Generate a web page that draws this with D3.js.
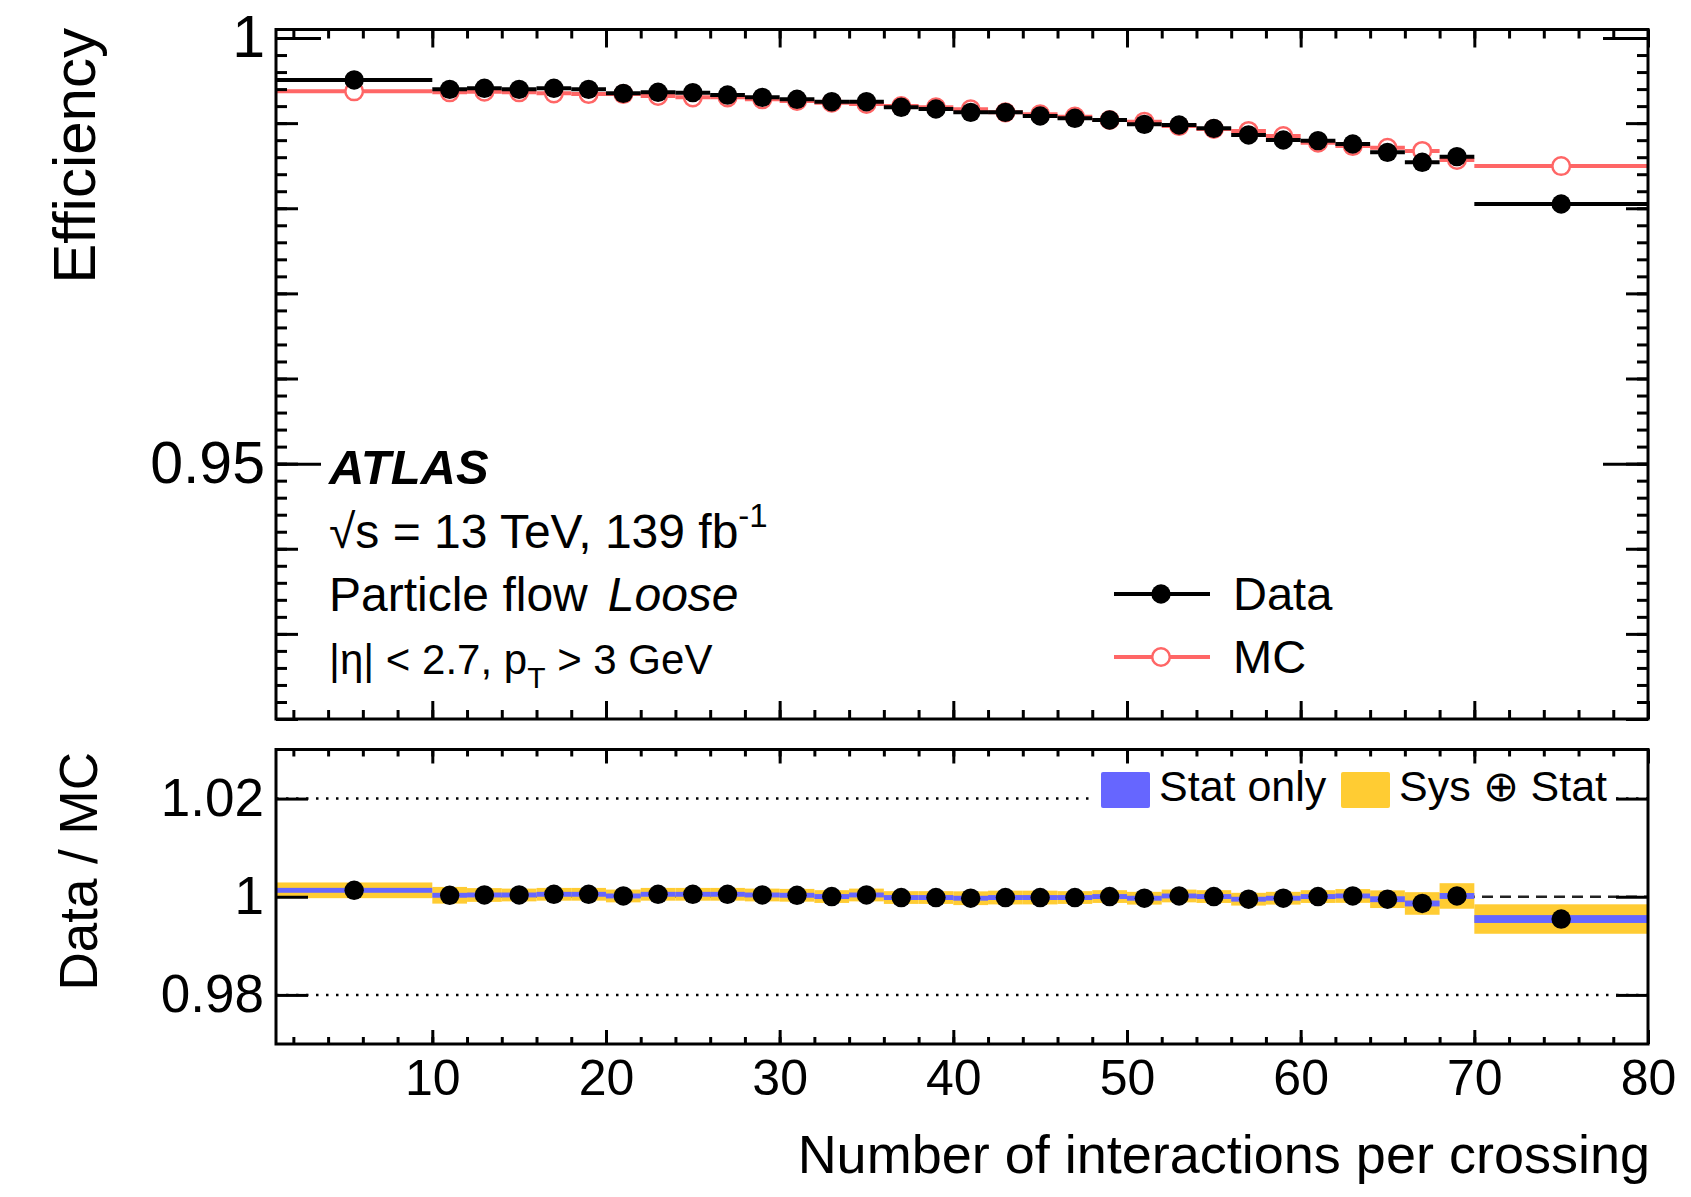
<!DOCTYPE html>
<html>
<head>
<meta charset="utf-8">
<script src="https://cdn.jsdelivr.net/npm/d3@7"></script>
<style>
body { margin: 0; background: #fff; }
text { font-family: "Liberation Sans", Arial, Helvetica, sans-serif; fill: #000; }
</style>
</head>
<body>
<svg id="chart"></svg>
<script>
// bins in number of interactions per crossing
const binEdges = [1, 10, 12, 14, 16, 18, 20, 22, 24, 26, 28, 30, 32, 34, 36, 38, 40,
  42, 44, 46, 48, 50, 52, 54, 56, 58, 60, 62, 64, 66, 68, 70, 80];
const effData = [0.99507, 0.99397, 0.99409, 0.99397, 0.99409, 0.99397, 0.99350, 0.99362,
  0.99358, 0.99330, 0.99303, 0.99280, 0.99252, 0.99252, 0.99186, 0.99166, 0.99127, 0.99127,
  0.99084, 0.99057, 0.99037, 0.98986, 0.98978, 0.98939, 0.98861, 0.98802, 0.98794, 0.98755,
  0.98657, 0.98540, 0.98606, 0.98050];
const effMC = [0.99374, 0.99362, 0.99369, 0.99362, 0.99350, 0.99342, 0.99342, 0.99319,
  0.99303, 0.99303, 0.99280, 0.99260, 0.99240, 0.99225, 0.99201, 0.99186, 0.99162, 0.99127,
  0.99104, 0.99076, 0.99037, 0.99017, 0.98966, 0.98931, 0.98908, 0.98849, 0.98770, 0.98731,
  0.98711, 0.98673, 0.98567, 0.98496];
const ratioVals = [1.00131, 1.00030, 1.00036, 1.00036, 1.00050, 1.00050, 1.00016, 1.00050,
  1.00050, 1.00050, 1.00036, 1.00030, 1.00004, 1.00036, 0.99984, 0.99984, 0.99970, 0.99984,
  0.99984, 0.99984, 1.00004, 0.99970, 1.00016, 1.00004, 0.99950, 0.99970, 1.00004, 1.00016,
  0.99950, 0.99863, 1.00016, 0.99546];
const statErr = [0.0005, 0.0005, 0.0005, 0.0005, 0.0005, 0.0005, 0.0005, 0.0005,
  0.0005, 0.0005, 0.0005, 0.0005, 0.0005, 0.0005, 0.0005, 0.0005, 0.0005, 0.0005,
  0.0005, 0.0005, 0.0005, 0.0005, 0.0005, 0.0005, 0.0005, 0.0005, 0.0005, 0.0005,
  0.0006, 0.0006, 0.0006, 0.0008];
const totErr = [0.0016, 0.0017, 0.0014, 0.0013, 0.0013, 0.0013, 0.0013, 0.0013,
  0.0013, 0.0013, 0.0013, 0.0013, 0.0013, 0.0013, 0.0013, 0.0013, 0.0014, 0.0014,
  0.0014, 0.0013, 0.0013, 0.0013, 0.0013, 0.0013, 0.0013, 0.0013, 0.0013, 0.0014,
  0.0018, 0.0023, 0.0026, 0.0030];

const xTickLabels = [10, 20, 30, 40, 50, 60, 70, 80];
const effTickLabels = [0.95, 1];
const ratioTickLabels = [0.98, 1, 1.02];

const L = 276, R = 1648;
const topT = 29.5, topB = 719, botT = 749.5, botB = 1044;
const red = "#ff6666", blue = "#6666ff", yellow = "#ffcc33";

let svg = d3.select("svg#chart")
  .attr("width", 1691)
  .attr("height", 1197)
  .style("background", "#fff");

const x = d3.scaleLinear().domain([1, 80]).range([L, R]);
const yEff = d3.scaleLinear().domain([0.92, 1.001]).range([topB, topT]);
const yRat = d3.scaleLinear().domain([0.97, 1.03]).range([botB, botT]);

const bins = effData.map((d, i) => ({
  lo: binEdges[i], hi: binEdges[i + 1], c: (binEdges[i] + binEdges[i + 1]) / 2,
  data: d, mc: effMC[i], ratio: ratioVals[i], stat: statErr[i], tot: totErr[i]
}));

const defs = svg.append("defs");
defs.append("clipPath").attr("id", "clipTop").append("rect")
  .attr("x", L).attr("y", topT).attr("width", R - L).attr("height", topB - topT);
defs.append("clipPath").attr("id", "clipBot").append("rect")
  .attr("x", L).attr("y", botT).attr("width", R - L).attr("height", botB - botT);

// ---------- top panel ----------
const gTop = svg.append("g").attr("clip-path", "url(#clipTop)");

gTop.selectAll(".mcbar").data(bins).join("line").attr("class", "mcbar")
  .attr("x1", d => x(d.lo)).attr("x2", d => x(d.hi))
  .attr("y1", d => yEff(d.mc)).attr("y2", d => yEff(d.mc))
  .attr("stroke", red).attr("stroke-width", 4);
gTop.selectAll(".mcpt").data(bins).join("circle").attr("class", "mcpt")
  .attr("cx", d => x(d.c)).attr("cy", d => yEff(d.mc)).attr("r", 8.8)
  .attr("fill", "#fff").attr("stroke", red).attr("stroke-width", 2.5);

gTop.selectAll(".databar").data(bins).join("line").attr("class", "databar")
  .attr("x1", d => x(d.lo)).attr("x2", d => x(d.hi))
  .attr("y1", d => yEff(d.data)).attr("y2", d => yEff(d.data))
  .attr("stroke", "#000").attr("stroke-width", 4);
gTop.selectAll(".datapt").data(bins).join("circle").attr("class", "datapt")
  .attr("cx", d => x(d.c)).attr("cy", d => yEff(d.data)).attr("r", 9.7)
  .attr("fill", "#000");

// ---------- ratio panel ----------
const gBot = svg.append("g").attr("clip-path", "url(#clipBot)");

gBot.selectAll(".ref").data([0.98, 1.02]).join("line").attr("class", "ref")
  .attr("x1", L).attr("x2", R).attr("y1", d => yRat(d)).attr("y2", d => yRat(d))
  .attr("stroke", "#000").attr("stroke-width", 2.5).attr("stroke-dasharray", "2.5,7.5");
gBot.append("line")
  .attr("x1", L).attr("x2", R).attr("y1", yRat(1)).attr("y2", yRat(1))
  .attr("stroke", "#222").attr("stroke-width", 2.5).attr("stroke-dasharray", "11,7");

gBot.selectAll(".sys").data(bins).join("rect").attr("class", "sys")
  .attr("x", d => x(d.lo)).attr("width", d => x(d.hi) - x(d.lo))
  .attr("y", d => yRat(d.ratio + d.tot)).attr("height", d => yRat(d.ratio - d.tot) - yRat(d.ratio + d.tot))
  .attr("fill", yellow);
gBot.selectAll(".stat").data(bins).join("rect").attr("class", "stat")
  .attr("x", d => x(d.lo)).attr("width", d => x(d.hi) - x(d.lo))
  .attr("y", d => yRat(d.ratio + d.stat)).attr("height", d => yRat(d.ratio - d.stat) - yRat(d.ratio + d.stat))
  .attr("fill", blue);

// ratio legend (white box hides the dotted line)
const rl = svg.append("g");
rl.append("rect").attr("x", 1090).attr("y", 764).attr("width", 524).attr("height", 50).attr("fill", "#fff");
rl.append("rect").attr("x", 1101).attr("y", 772).attr("width", 49).attr("height", 36).attr("rx", 2).attr("fill", blue);
rl.append("text").attr("x", 1159).attr("y", 801).attr("font-size", 43).text("Stat only");
rl.append("rect").attr("x", 1341).attr("y", 772).attr("width", 49).attr("height", 36).attr("rx", 2).attr("fill", yellow);
rl.append("text").attr("x", 1399).attr("y", 801).attr("font-size", 43).text("Sys \u2295 Stat");

gBot.selectAll(".rpt").data(bins).join("circle").attr("class", "rpt")
  .attr("cx", d => x(d.c)).attr("cy", d => yRat(d.ratio)).attr("r", 9.7)
  .attr("fill", "#000");

// ---------- axes (ROOT style, ticks inward) ----------
function ticks(g, axis, vals, size, fmt, pad, fs) {
  g.call(axis.tickValues(vals).tickSize(-size).tickFormat(fmt || "").tickPadding(pad || 0));
  g.select(".domain").remove();
  g.selectAll(".tick line").attr("stroke", "#000").attr("stroke-width", 3);
  g.attr("font-family", null).attr("font-size", fs || 10);
  return g;
}
const xMinor = d3.range(2, 81, 2);
const effTert = d3.range(460, 501).map(k => k / 500);
const effSec = d3.range(92, 101).map(k => k / 100);

// top panel
ticks(svg.append("g").attr("transform", `translate(0,${topB})`), d3.axisBottom(x), xMinor, 9);
ticks(svg.append("g").attr("transform", `translate(0,${topB})`), d3.axisBottom(x), xTickLabels, 18);
ticks(svg.append("g").attr("transform", `translate(0,${topT})`), d3.axisTop(x), xMinor, 9);
ticks(svg.append("g").attr("transform", `translate(0,${topT})`), d3.axisTop(x), xTickLabels, 18);
ticks(svg.append("g").attr("transform", `translate(${L},0)`), d3.axisLeft(yEff), effTert, 11);
ticks(svg.append("g").attr("transform", `translate(${L},0)`), d3.axisLeft(yEff), effSec, 22);
ticks(svg.append("g").attr("transform", `translate(${L},0)`), d3.axisLeft(yEff), effTickLabels, 45, d3.format(""), 11, 59);
ticks(svg.append("g").attr("transform", `translate(${R},0)`), d3.axisRight(yEff), effTert, 11);
ticks(svg.append("g").attr("transform", `translate(${R},0)`), d3.axisRight(yEff), effSec, 22);
ticks(svg.append("g").attr("transform", `translate(${R},0)`), d3.axisRight(yEff), effTickLabels, 45);

// ratio panel
ticks(svg.append("g").attr("transform", `translate(0,${botB})`), d3.axisBottom(x), xMinor, 7);
ticks(svg.append("g").attr("transform", `translate(0,${botB})`), d3.axisBottom(x), xTickLabels, 14, d3.format("d"), 15.5, 50);
ticks(svg.append("g").attr("transform", `translate(0,${botT})`), d3.axisTop(x), xMinor, 7);
ticks(svg.append("g").attr("transform", `translate(0,${botT})`), d3.axisTop(x), xTickLabels, 14);
ticks(svg.append("g").attr("transform", `translate(${L},0)`), d3.axisLeft(yRat), ratioTickLabels, 32, d3.format(""), 12, 53);
ticks(svg.append("g").attr("transform", `translate(${R},0)`), d3.axisRight(yRat), ratioTickLabels, 32);

// frames
svg.append("rect").attr("x", L).attr("y", topT).attr("width", R - L).attr("height", topB - topT)
  .attr("fill", "none").attr("stroke", "#000").attr("stroke-width", 3);
svg.append("rect").attr("x", L).attr("y", botT).attr("width", R - L).attr("height", botB - botT)
  .attr("fill", "none").attr("stroke", "#000").attr("stroke-width", 3);

// titles
svg.append("text").attr("transform", "translate(95,28) rotate(-90)")
  .attr("text-anchor", "end").attr("font-size", 60).text("Efficiency");
svg.append("text").attr("transform", "translate(97,752) rotate(-90)")
  .attr("text-anchor", "end").attr("font-size", 53).text("Data / MC");
svg.append("text").attr("x", 1650).attr("y", 1173)
  .attr("text-anchor", "end").attr("font-size", 54).text("Number of interactions per crossing");

// ATLAS label block
svg.append("text").attr("x", 329).attr("y", 484).attr("font-size", 49)
  .attr("font-weight", "bold").attr("font-style", "italic").text("ATLAS");
const t2 = svg.append("text").attr("x", 329).attr("y", 548).attr("font-size", 48);
t2.append("tspan").text("\u221As = 13 TeV, 139 fb");
t2.append("tspan").attr("dy", -21).attr("font-size", 33).text("-1");
const t3 = svg.append("text").attr("x", 329).attr("y", 611).attr("font-size", 48);
t3.append("tspan").text("Particle flow");
t3.append("tspan").attr("dx", 20).attr("font-style", "italic").text("Loose");
const t4 = svg.append("text").attr("x", 329).attr("y", 674).attr("font-size", 42);
t4.append("tspan").text("|\u03B7| < 2.7, p");
t4.append("tspan").attr("dy", 14).attr("font-size", 30).text("T");
t4.append("tspan").attr("dy", -14).text(" > 3 GeV");

// top legend
const lg = svg.append("g");
lg.append("line").attr("x1", 1114).attr("x2", 1210).attr("y1", 594).attr("y2", 594)
  .attr("stroke", "#000").attr("stroke-width", 4);
lg.append("circle").attr("cx", 1161).attr("cy", 594).attr("r", 9.7).attr("fill", "#000");
lg.append("text").attr("x", 1233).attr("y", 610).attr("font-size", 47).text("Data");
lg.append("line").attr("x1", 1114).attr("x2", 1210).attr("y1", 657).attr("y2", 657)
  .attr("stroke", red).attr("stroke-width", 4);
lg.append("circle").attr("cx", 1161).attr("cy", 657).attr("r", 8.8)
  .attr("fill", "#fff").attr("stroke", red).attr("stroke-width", 2.5);
lg.append("text").attr("x", 1233).attr("y", 673).attr("font-size", 47).text("MC");
</script>
</body>
</html>
